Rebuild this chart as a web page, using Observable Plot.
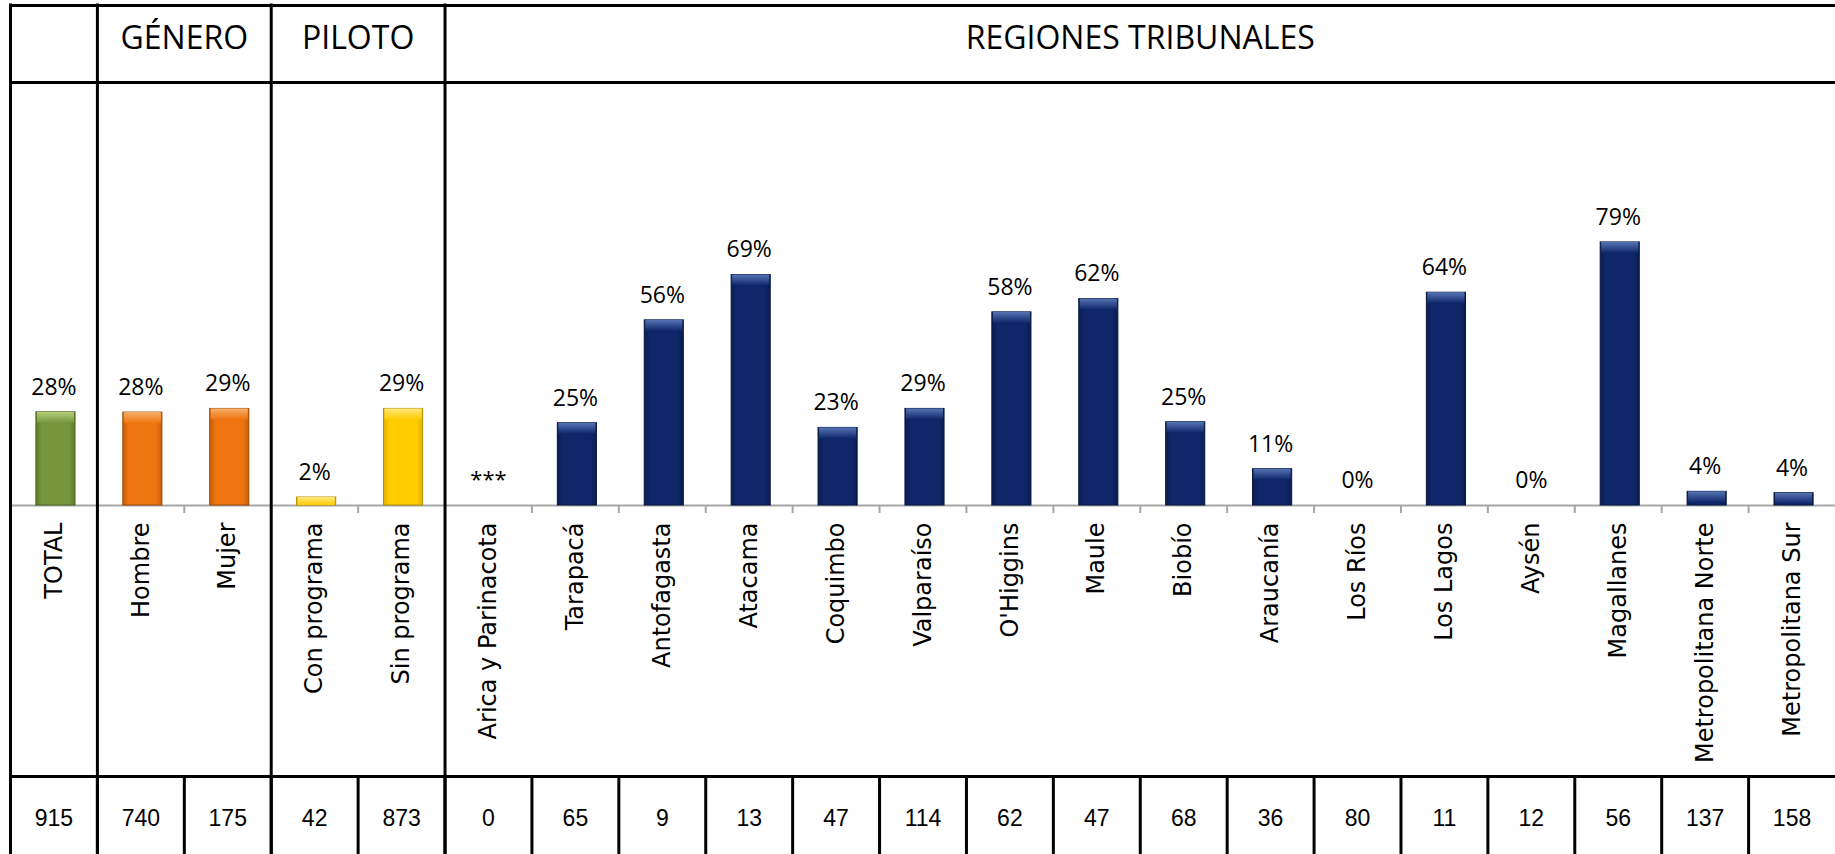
<!DOCTYPE html>
<html>
<head>
<meta charset="utf-8">
<script src="https://cdn.jsdelivr.net/npm/d3@7"></script>
<script src="https://cdn.jsdelivr.net/npm/@observablehq/plot@0.6"></script>
<style>
  html, body { margin: 0; padding: 0; background: #fff; }
  svg { display: block; }
</style>
</head>
<body>
<div id="chart"></div>
<script>
// ---- data ----
const categories = ["TOTAL", "Hombre", "Mujer", "Con programa", "Sin programa",
  "Arica y Parinacota", "Tarapacá", "Antofagasta", "Atacama", "Coquimbo", "Valparaíso",
  "O'Higgins", "Maule", "Biobío", "Araucanía", "Los Ríos", "Los Lagos", "Aysén",
  "Magallanes", "Metropolitana Norte", "Metropolitana Sur"];
const groups = ["total", "genero", "genero", "piloto", "piloto",
  "region", "region", "region", "region", "region", "region", "region", "region",
  "region", "region", "region", "region", "region", "region", "region", "region"];
const values = [0.28, 0.279, 0.29, 0.024, 0.29,
  null, 0.247, 0.556, 0.692, 0.233, 0.29, 0.58, 0.62, 0.25, 0.109, 0, 0.639, 0,
  0.79, 0.041, 0.037];
const counts = [915, 740, 175, 42, 873, 0, 65, 9, 13, 47, 114, 62, 47, 68, 36, 80, 11, 12, 56, 137, 158];
const groupTitles = ["", "GÉNERO", "PILOTO", "REGIONES TRIBUNALES"];
const groupKeys = ["total", "genero", "piloto", "region"];

const rows = categories.map((c, i) => ({cat: c, group: groups[i], value: values[i], n: counts[i]}));
const groupInfo = groupKeys.map((g, k) => {
  const members = rows.filter(r => r.group === g);
  return {key: g, title: groupTitles[k], first: members[0].cat, size: members.length};
});

// ---- layout ----
const W = 1835, H = 854, ML = 10;
const step = (W - ML) / categories.length;
const BASE = 505, PX = 333;            // baseline pixel, pixels per 100%
const yv = px => (BASE - px) / PX;     // pixel row -> y value
const pct = d3.format(".0%");
const bevel = 11 / PX;

const fillFor = g => `url(#grad-${g})`;
const topFor = g => `url(#bev-${g})`;
const strokeCol = {total: "#4f6228", genero: "#9a4a08", piloto: "#b38f00", region: "#061640"};

const barRows = rows.filter(r => r.value != null && r.value > 0);

const marks = [];
// baseline and ticks
marks.push(Plot.ruleY([0], {stroke: "#a6a6a6", strokeWidth: 2}));
marks.push(Plot.ruleX(categories, {x: d => d, y1: 0, y2: yv(513), dx: -step / 2, stroke: "#a6a6a6", strokeWidth: 2}));
// bars per group
for (const g of groupKeys) {
  const data = barRows.filter(r => r.group === g);
  if (!data.length) continue;
  marks.push(Plot.barY(data, {x: "cat", y: "value", dx: 2, fill: fillFor(g), stroke: strokeCol[g], strokeWidth: 1}));
  marks.push(Plot.barY(data, {x: "cat", y1: "value", y2: d => Math.max(0, d.value - bevel), dx: 2, fill: topFor(g), insetLeft: 1, insetRight: 1}));
}
// value labels
marks.push(Plot.text(rows.filter(r => r.value != null), {
  x: "cat", y: "value", text: d => pct(d.value), dy: -25,
  fontSize: 23, fontFamily: "Open Sans", fill: "#000"
}));
marks.push(Plot.text(rows.filter(r => r.value == null), {
  x: "cat", y: () => 0, text: () => "***", dy: -26,
  fontSize: 22, fontFamily: "Open Sans", fill: "#000"
}));
// category labels (rotated)
marks.push(Plot.text(rows, {
  x: "cat", y: () => yv(522), text: "cat", rotate: -90, textAnchor: "end",
  fontSize: 24, fontFamily: "DejaVu Sans", fill: "#000"
}));
// counts row
marks.push(Plot.text(rows, {
  x: "cat", y: () => yv(818), text: d => String(d.n),
  fontSize: 23, fontFamily: "Liberation Sans", fill: "#000"
}));
// group titles, centred over their members
for (const g of groupInfo.filter(g => g.title)) {
  marks.push(Plot.text([g], {
    x: "first", y: () => yv(38), text: "title", dx: (g.size - 1) * step / 2,
    fontSize: 32, fontFamily: "Open Sans", fill: "#000"
  }));
}
// table lines
marks.push(Plot.ruleY([yv(5), yv(82), yv(776)], {stroke: "#000", strokeWidth: 3}));
marks.push(Plot.ruleX(groupInfo, {x: "first", y1: yv(3.5), y2: yv(H), dx: -step / 2, stroke: "#000", strokeWidth: 3}));
marks.push(Plot.ruleX(categories, {x: d => d, y1: yv(776), y2: yv(H), dx: -step / 2, stroke: "#000", strokeWidth: 3}));

const chart = Plot.plot({
  width: W, height: H,
  marginLeft: ML, marginRight: 0, marginTop: 0, marginBottom: 0,
  x: {domain: categories, paddingInner: 0.55, paddingOuter: 0.275, round: false, axis: null},
  y: {domain: [0, 1], range: [BASE, BASE - PX], axis: null},
  style: {background: "#fff", overflow: "visible"},
  marks
});

const svgSel = d3.select(chart);
document.getElementById("chart").appendChild(chart);

// gradients (bevel look)
const defs = svgSel.insert("defs", ":first-child");
const pal = {
  total: {edge: "#5e7a2c", mid: "#77953a", hi: "#b5d07a"},
  genero: {edge: "#c75d07", mid: "#ee7410", hi: "#f8b06a"},
  piloto: {edge: "#e0b000", mid: "#ffcc00", hi: "#ffe680"},
  region: {edge: "#0a1d52", mid: "#0f2768", hi: "#5674b4"}
};
for (const [k, c] of Object.entries(pal)) {
  const lg = defs.append("linearGradient").attr("id", `grad-${k}`).attr("x1", 0).attr("x2", 1).attr("y1", 0).attr("y2", 0);
  [[0, c.edge], [0.15, c.mid], [0.85, c.mid], [1, c.edge]].forEach(([o, col]) =>
    lg.append("stop").attr("offset", o).attr("stop-color", col));
  const bg = defs.append("linearGradient").attr("id", `bev-${k}`).attr("x1", 0).attr("x2", 0).attr("y1", 0).attr("y2", 1);
  [[0, c.hi], [1, c.mid]].forEach(([o, col]) =>
    bg.append("stop").attr("offset", o).attr("stop-color", col));
}
</script>
</body>
</html>
